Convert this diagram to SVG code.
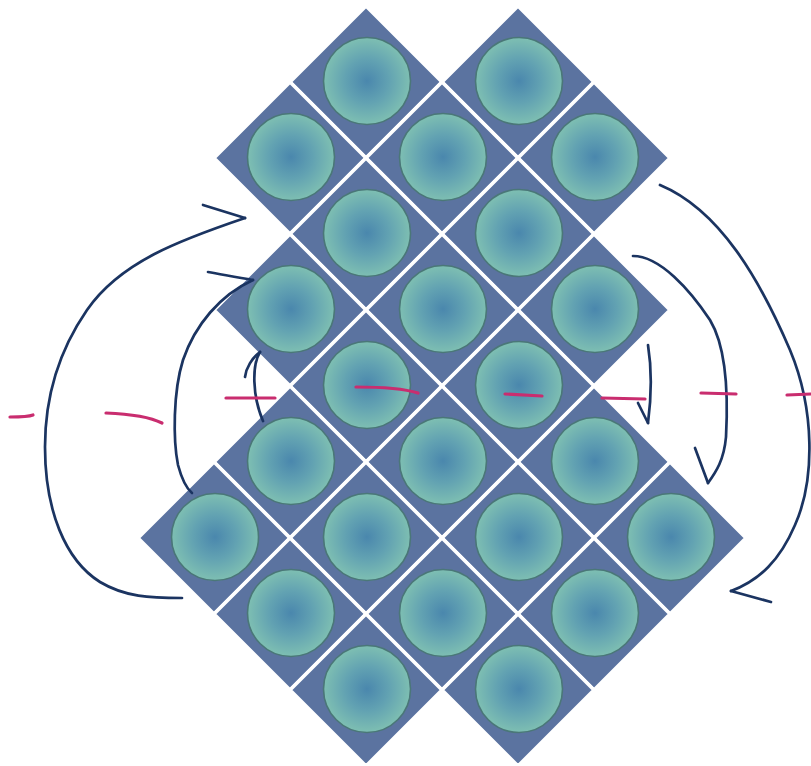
<svg xmlns="http://www.w3.org/2000/svg" xmlns:xlink="http://www.w3.org/1999/xlink" width="811" height="766" viewBox="0 0 811 766">
<style>
.dia{fill:#5b73a0;stroke:#ffffff;stroke-width:3.5;stroke-linejoin:miter}
.ball{fill:url(#g);stroke:#4a7778;stroke-width:1.6}
.ink{fill:none;stroke:#1b3461;stroke-width:2.7;stroke-linecap:round;stroke-linejoin:round}
.pink{fill:none;stroke:#c92d6f;stroke-width:3.2;stroke-linecap:round}
</style>
<defs>
<radialGradient id="g" cx="0.5" cy="0.5" r="0.5">
<stop offset="0" stop-color="#4a87ad"/>
<stop offset="0.5" stop-color="#62a2b2"/>
<stop offset="1" stop-color="#7ebfb2"/>
</radialGradient>
<g id="tile">
<polygon class="dia" points="0,-76 76,0 0,76 -76,0"/>
<circle class="ball" cx="1" cy="-1" r="43.5"/>
</g>
</defs>
<rect width="811" height="766" fill="#ffffff"/>
<g id="tiles">
<g id="t-r1-a" transform="translate(366,82)"><use xlink:href="#tile"/></g>
<g id="t-r1-b" transform="translate(518,82)"><use xlink:href="#tile"/></g>
<g id="t-r2-a" transform="translate(290,158)"><use xlink:href="#tile"/></g>
<g id="t-r2-b" transform="translate(442,158)"><use xlink:href="#tile"/></g>
<g id="t-r2-c" transform="translate(594,158)"><use xlink:href="#tile"/></g>
<g id="t-r3-a" transform="translate(366,234)"><use xlink:href="#tile"/></g>
<g id="t-r3-b" transform="translate(518,234)"><use xlink:href="#tile"/></g>
<g id="t-r4-a" transform="translate(290,310)"><use xlink:href="#tile"/></g>
<g id="t-r4-b" transform="translate(442,310)"><use xlink:href="#tile"/></g>
<g id="t-r4-c" transform="translate(594,310)"><use xlink:href="#tile"/></g>
<g id="t-r5-a" transform="translate(366,386)"><use xlink:href="#tile"/></g>
<g id="t-r5-b" transform="translate(518,386)"><use xlink:href="#tile"/></g>
<g id="t-r6-a" transform="translate(290,462)"><use xlink:href="#tile"/></g>
<g id="t-r6-b" transform="translate(442,462)"><use xlink:href="#tile"/></g>
<g id="t-r6-c" transform="translate(594,462)"><use xlink:href="#tile"/></g>
<g id="t-r7-a" transform="translate(214,538)"><use xlink:href="#tile"/></g>
<g id="t-r7-b" transform="translate(366,538)"><use xlink:href="#tile"/></g>
<g id="t-r7-c" transform="translate(518,538)"><use xlink:href="#tile"/></g>
<g id="t-r7-d" transform="translate(670,538)"><use xlink:href="#tile"/></g>
<g id="t-r8-a" transform="translate(290,614)"><use xlink:href="#tile"/></g>
<g id="t-r8-b" transform="translate(442,614)"><use xlink:href="#tile"/></g>
<g id="t-r8-c" transform="translate(594,614)"><use xlink:href="#tile"/></g>
<g id="t-r9-a" transform="translate(366,690)"><use xlink:href="#tile"/></g>
<g id="t-r9-b" transform="translate(518,690)"><use xlink:href="#tile"/></g>
</g>
<g id="connectors">
<path class="ink" d="M245,218 C180,240 120,262 87,310 C58,352 45,400 45,447 C45,510 65,560 100,582 C125,597 150,598 182,598"/>
<path class="ink" d="M203,205 L245,218"/>
<path class="ink" d="M253,280 C220,295 195,325 183,360 C173,392 173,440 178,465 C182,480 186,488 192,493"/>
<path class="ink" d="M208,272 C220,274 235,277 253,280"/>
<path class="ink" d="M260,352 C252,365 252,395 263,421"/>
<path class="ink" d="M245,377 C246,368 252,358 260,352"/>
<path class="ink" d="M660,185 C720,210 760,280 790,350 C815,410 815,480 795,525 C780,560 760,580 731,591"/>
<path class="ink" d="M731,591 L771,602"/>
<path class="ink" d="M633,256 C660,256 690,290 710,320 C728,350 728,400 726,437 C724,460 716,472 708,483"/>
<path class="ink" d="M695,448 L708,483"/>
<path class="ink" d="M648,345 C652,370 651,400 648,423"/>
<path class="ink" d="M638,403 L648,423"/>
</g>
<g id="axis">
<path class="pink" d="M10,417 C20,417 28,417 33,415"/>
<path class="pink" d="M106,413 C130,414 150,417 162,423"/>
<path class="pink" d="M226,398 L275,398"/>
<path class="pink" d="M356,387 C380,387 405,389 418,393"/>
<path class="pink" d="M505,394 L542,396"/>
<path class="pink" d="M602,398 L645,399"/>
<path class="pink" d="M701,393 L736,394"/>
<path class="pink" d="M787,395 L811,394"/>
</g>
</svg>
